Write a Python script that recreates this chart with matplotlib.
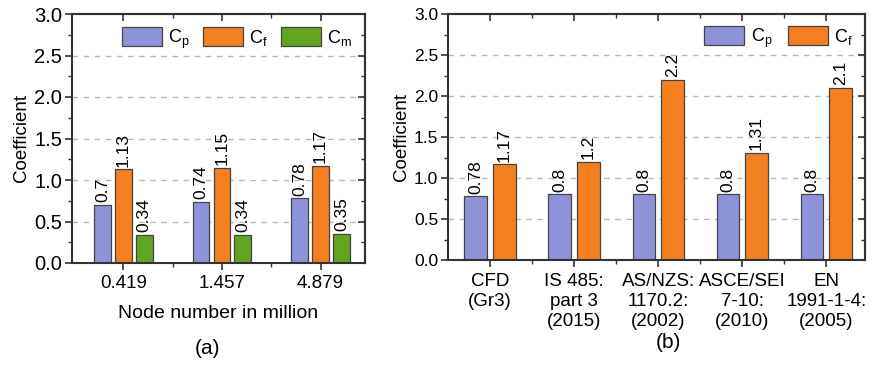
import matplotlib
matplotlib.use("Agg")
import matplotlib.pyplot as plt
import numpy as np
from matplotlib.ticker import FixedLocator, MultipleLocator

plt.rcParams['font.family'] = ['Liberation Sans', 'DejaVu Sans']
plt.rcParams['mathtext.default'] = 'regular'

# ---- data ----
mesh_labels = ['0.419', '1.457', '4.879']
mesh_cp = [0.70, 0.74, 0.78]
mesh_cf = [1.13, 1.15, 1.17]
mesh_cm = [0.34, 0.34, 0.35]

code_labels = ['CFD\n(Gr3)', 'IS 485:\npart 3\n(2015)', 'AS/NZS:\n1170.2:\n(2002)',
               'ASCE/SEI\n7-10:\n(2010)', 'EN\n1991-1-4:\n(2005)']
code_cp = [0.78, 0.8, 0.8, 0.8, 0.8]
code_cf = [1.17, 1.2, 2.2, 1.31, 2.1]

c_blue = '#8d93d8'
c_orange = '#f47f20'
c_green = '#62a51f'
edge = '#444444'

W, H = 871, 368
fig = plt.figure(figsize=(W / 100, H / 100), dpi=100)

def fmt(v):
    return ('%.2f' % v).rstrip('0').rstrip('.')

def style_axes(ax, n, xlim, ticksize, xsize):
    ax.set_ylim(0, 3.0)
    ax.set_xlim(*xlim)
    ax.set_yticks(np.arange(0, 3.01, 0.5))
    ax.set_yticklabels(['%.1f' % v for v in np.arange(0, 3.01, 0.5)])
    ax.yaxis.set_minor_locator(MultipleLocator(0.25))
    ax.xaxis.set_minor_locator(FixedLocator(np.arange(0.5, n - 0.4, 1.0)))
    ax.tick_params(axis='both', which='major', direction='out', length=5, width=1.2,
                   labelsize=ticksize, color='#333333', pad=2)
    ax.tick_params(axis='both', which='minor', direction='out', length=3, width=1.0,
                   color='#333333')
    ax.tick_params(axis='x', labelsize=xsize, pad=4)
    for sp in ax.spines.values():
        sp.set_linewidth(1.5)
        sp.set_color('#333333')
    for y in [0.5, 1.0, 1.5, 2.0, 2.5]:
        ax.axhline(y, color='#b8b8b8', lw=1.0, ls=(0, (4, 4)), zorder=0)
    sec_y = ax.secondary_yaxis('right')
    sec_y.yaxis.set_major_locator(MultipleLocator(0.5))
    sec_y.yaxis.set_minor_locator(MultipleLocator(0.25))
    sec_y.tick_params(which='major', direction='in', length=5, width=1.2, labelright=False, color='#333333')
    sec_y.tick_params(which='minor', direction='in', length=3, width=1.0, color='#333333')
    sec_y.spines['right'].set_linewidth(1.5)
    sec_y.spines['right'].set_color('#333333')
    sec_x = ax.secondary_xaxis('top')
    sec_x.xaxis.set_major_locator(FixedLocator(np.arange(n)))
    sec_x.xaxis.set_minor_locator(FixedLocator(np.arange(0.5, n - 0.4, 1.0)))
    sec_x.tick_params(which='major', direction='in', length=5, width=1.2, labeltop=False, color='#333333')
    sec_x.tick_params(which='minor', direction='in', length=3, width=1.0, color='#333333')
    sec_x.spines['top'].set_linewidth(1.5)
    sec_x.spines['top'].set_color('#333333')

# ---- panel (a) ----
ax1 = fig.add_axes([72 / W, 1 - 263 / H, 293 / W, 249 / H])
x = np.arange(len(mesh_labels))
bw, off = 0.17, 0.212
series = [(mesh_cp, c_blue, '$C_p$', -off), (mesh_cf, c_orange, '$C_f$', 0), (mesh_cm, c_green, '$C_m$', off)]
for vals, col, lab, o in series:
    ax1.bar(x + o, vals, bw, color=col, edgecolor=edge, linewidth=0.9, label=lab, zorder=2)
    for xi, v in zip(x + o, vals):
        ax1.text(xi, v + 0.03, fmt(v), rotation=90, ha='center', va='bottom', fontsize=12.5)
ax1.set_xticks(x)
ax1.set_xticklabels(mesh_labels)
style_axes(ax1, len(mesh_labels), (-0.52, 2.45), 14.5, 13.5)
ax1.set_ylabel('Coefficient', fontsize=13.5, labelpad=3)
ax1.set_xlabel('Node number in million', fontsize=14, labelpad=9)
ax1.legend(loc='upper right', ncol=3, frameon=False, fontsize=13, handlelength=2.2,
           handleheight=1.3, columnspacing=0.75, handletextpad=0.35,
           bbox_to_anchor=(1.0, 1.0), borderaxespad=0.3)
fig.text(207 / W, 1 - 348 / H, '(a)', ha='center', va='center', fontsize=15)

# ---- panel (b) ----
ax2 = fig.add_axes([448 / W, 1 - 260 / H, 417 / W, 246 / H])
x2 = np.arange(len(code_labels))
bw2, off2 = 0.27, 0.17
for vals, col, lab, o in [(code_cp, c_blue, '$C_p$', -off2), (code_cf, c_orange, '$C_f$', off2)]:
    ax2.bar(x2 + o, vals, bw2, color=col, edgecolor=edge, linewidth=0.9, label=lab, zorder=2)
    for xi, v in zip(x2 + o, vals):
        ax2.text(xi, v + 0.03, fmt(v), rotation=90, ha='center', va='bottom', fontsize=12.5)
ax2.set_xticks(x2)
ax2.set_xticklabels(code_labels, linespacing=1.25)
style_axes(ax2, len(code_labels), (-0.5, 4.46), 12.5, 13.5)
ax2.set_ylabel('Coefficient', fontsize=13.5, labelpad=3)
ax2.legend(loc='upper right', ncol=2, frameon=False, fontsize=13, handlelength=2.2,
           handleheight=1.3, columnspacing=0.9, handletextpad=0.35,
           bbox_to_anchor=(1.0, 1.0), borderaxespad=0.25)
fig.text(668 / W, 1 - 342 / H, '(b)', ha='center', va='center', fontsize=15)

fig.savefig('out.png', dpi=100)
